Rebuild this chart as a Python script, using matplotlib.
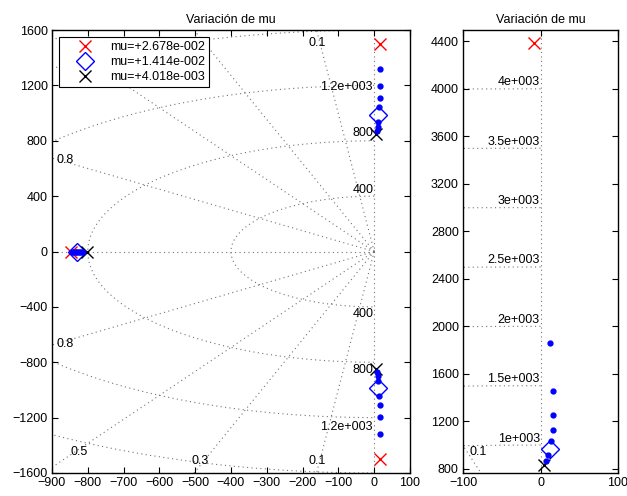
import numpy as np
import matplotlib
matplotlib.use('Agg')
import matplotlib.pyplot as plt

plt.rcParams['font.family'] = ['Liberation Sans', 'DejaVu Sans']
plt.rcParams['font.size'] = 9

# legend entries (one per value of mu)
mu_labels = ['mu=+2.678e-002', 'mu=+1.414e-002', 'mu=+4.018e-003']

# left panel: complex branch (upper half, conjugate below)
branch_re = [8, 10, 12, 14, 15, 16, 16]
branch_im = [870, 900, 935, 1045, 1110, 1197, 1318]
# left panel: real-axis branch
real_re = [-845, -841, -837, -833, -829, -825, -821, -817, -813]

# poles for each mu in the left panel
red_re = [15, 15, -847]
red_im = [1497, -1497, 0]
dia_re = [12, 12, -829]
dia_im = [986, -986, 0]
blk_re = [4, 4, -803]
blk_im = [848, -848, 0]

# right panel (zoom on the upper branch)
zoom_re = [7, 9.5, 14, 16, 16.5, 15.6, 12]
zoom_im = [870, 915, 1035, 1125, 1251, 1456, 1860]
zoom_red = (-9, 4385)
zoom_dia = (12, 968)
zoom_blk = (4, 831)

# s-plane grid: damping ratios and natural frequencies
zeta_left = [0.1, 0.3, 0.5, 0.8]
wn_left = [400, 800, 1200, 1600]
zeta_right = [0.1]
wn_right = [1000, 1500, 2000, 2500, 3000, 3500, 4000]
wn_right_labels = ['1e+003', '1.5e+003', '2e+003', '2.5e+003', '3e+003', '3.5e+003', '4e+003']

grid_kw = dict(color='0.45', linestyle=(0, (1, 3)), linewidth=0.8, zorder=1)


def draw_sgrid(ax, zetas, wns, rmax):
    # damping lines from the origin
    for z in zetas:
        a = np.arccos(z)
        ax.plot([0, -rmax * np.cos(a)], [0, rmax * np.sin(a)], **grid_kw)
        ax.plot([0, -rmax * np.cos(a)], [0, -rmax * np.sin(a)], **grid_kw)
    # natural frequency half circles
    t = np.linspace(np.pi / 2, 3 * np.pi / 2, 400)
    for w in wns:
        ax.plot(w * np.cos(t), w * np.sin(t), **grid_kw)
    ax.plot([-rmax, 0], [0, 0], **grid_kw)
    ax.plot([0, 0], [-rmax, rmax], **grid_kw)


def style_axes(ax):
    ax.tick_params(direction='in', top=True, right=True, length=4, width=0.8, labelsize=9, pad=3)
    for s in ax.spines.values():
        s.set_linewidth(1.0)
    ax.set_title('Variación de mu', fontsize=9, pad=5)


fig = plt.figure(figsize=(6.27, 4.96), dpi=100)
ax1 = fig.add_axes([0.0829, 0.0464, 0.571, 0.893])
ax2 = fig.add_axes([0.7385, 0.0464, 0.2472, 0.893])

# ---- left panel ----
draw_sgrid(ax1, zeta_left, wn_left, 5000)

ax1.plot(red_re, red_im, 'x', color='r', ms=9, mew=1, ls='none', label=mu_labels[0], zorder=3)
ax1.plot(dia_re, dia_im, 'D', color='b', mfc='none', ms=9, mew=1, ls='none', label=mu_labels[1], zorder=3)
ax1.plot(blk_re, blk_im, 'x', color='k', ms=9, mew=1, ls='none', label=mu_labels[2], zorder=3)

br = np.array(branch_re)
bi = np.array(branch_im)
ax1.plot(br, bi, 'o', color='b', ms=3.5, ls='none', zorder=4)
ax1.plot(br, -bi, 'o', color='b', ms=3.5, ls='none', zorder=4)
ax1.plot(real_re, np.zeros(len(real_re)), 'o', color='b', ms=3.5, ls='none', zorder=4)

# grid labels
ax1.text(-160, 1510, '0.1', ha='center', va='center', zorder=2)
ax1.text(-160, -1512, '0.1', ha='center', va='center', zorder=2)
ax1.text(-486, -1514, '0.3', ha='center', va='center', zorder=2)
ax1.text(-824, -1451, '0.5', ha='center', va='center', zorder=2)
ax1.text(-863, 661, '0.8', ha='center', va='center', zorder=2)
ax1.text(-863, -671, '0.8', ha='center', va='center', zorder=2)
ax1.text(-2, 444, '400', ha='right', va='center', zorder=2)
ax1.text(-2, 853, '800', ha='right', va='center', zorder=2)
ax1.text(-4, 1186, '1.2e+003', ha='right', va='center', zorder=2)
ax1.text(-2, -454, '400', ha='right', va='center', zorder=2)
ax1.text(-2, -857, '800', ha='right', va='center', zorder=2)
ax1.text(-4, -1266, '1.2e+003', ha='right', va='center', zorder=2)

ax1.set_xlim(-900, 100)
ax1.set_ylim(-1600, 1600)
ax1.set_xticks(range(-900, 101, 100))
ax1.set_yticks(range(-1600, 1601, 400))
style_axes(ax1)

leg = ax1.legend(loc='upper left', numpoints=1, fancybox=False, framealpha=1, edgecolor='k',
                 borderaxespad=0.56, borderpad=0.32, handlelength=3.5, handletextpad=0.25,
                 labelspacing=0.25, fontsize=9)
leg.get_frame().set_linewidth(0.8)
leg.set_zorder(10)

# ---- right panel ----
draw_sgrid(ax2, zeta_right, wn_right, 6000)

ax2.plot(zoom_re, zoom_im, 'o', color='b', ms=3.5, ls='none', zorder=4)
ax2.plot(*zoom_red, 'x', color='r', ms=9, mew=1, zorder=3)
ax2.plot(*zoom_dia, 'D', color='b', mfc='none', ms=9, mew=1, zorder=3)
ax2.plot(*zoom_blk, 'x', color='k', ms=9, mew=1, zorder=3)

for w, lab in zip(wn_right, wn_right_labels):
    ax2.text(-1, w + 55, lab, ha='right', va='center', zorder=2)
ax2.text(-80, 944, '0.1', ha='center', va='center', zorder=2)

ax2.set_xlim(-100, 100)
ax2.set_ylim(765, 4495)
ax2.set_xticks([-100, 0, 100])
ax2.set_yticks(range(800, 4401, 400))
style_axes(ax2)

fig.savefig('out.png', dpi=100)
